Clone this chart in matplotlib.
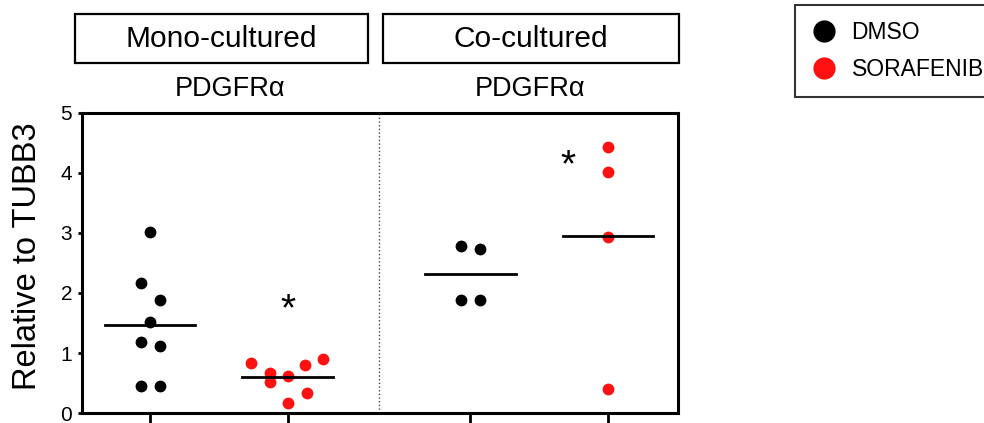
import numpy as np
import matplotlib
matplotlib.use('Agg')
import matplotlib.pyplot as plt
from matplotlib.patches import Rectangle
from matplotlib.lines import Line2D

plt.rcParams['font.family'] = ['Liberation Sans', 'DejaVu Sans']

# groups: mono DMSO, mono sorafenib, co DMSO, co sorafenib
pos = [1.0, 2.0, 3.33, 4.33]
mono_dmso = [3.01, 2.16, 1.88, 1.52, 1.19, 1.12, 0.45, 0.45]
mono_dmso_dx = [0.0, -0.068, 0.073, 0.0, -0.068, 0.073, -0.068, 0.073]
mono_sora = [0.83, 0.67, 0.61, 0.80, 0.90, 0.51, 0.33, 0.17]
mono_sora_dx = [-0.264, -0.13, 0.0, 0.13, 0.26, -0.13, 0.14, 0.0]
co_dmso = [2.78, 2.74, 1.89, 1.89]
co_dmso_dx = [-0.068, 0.07, -0.068, 0.07]
co_sora = [4.43, 4.01, 2.94, 0.40]
co_sora_dx = [0.0, 0.0, 0.0, 0.0]

stars_x = [2.0, 4.04]
stars_y = [1.82, 4.22]

black = 'black'
red = '#ff1111'

fig = plt.figure(figsize=(9.84, 4.23), dpi=100)
ax = fig.add_axes([82/984, 10/423, (678-82)/984, 300/423])

groups = [(mono_dmso, mono_dmso_dx, black), (mono_sora, mono_sora_dx, red),
          (co_dmso, co_dmso_dx, black), (co_sora, co_sora_dx, red)]
for p, (vals, dx, c) in zip(pos, groups):
    ax.plot(p + np.array(dx), vals, 'o', color=c, markersize=8.5, mec='none', zorder=3)
    m = np.mean(vals)
    ax.plot([p - 0.33, p + 0.33], [m, m], color='black', lw=2, zorder=4)

# asterisk glyph sits high in its line box, so nudge it down a little
for sx, sy in zip(stars_x, stars_y):
    ax.annotate('*', (sx, sy), xytext=(0, -5), textcoords='offset points',
                ha='center', va='center', fontsize=28)

ax.axvline(2.665, color='#444444', lw=1, ls=':')

ax.set_xlim(0.505, 4.84)
ax.set_ylim(0, 5)
ax.set_yticks([0, 1, 2, 3, 4, 5])
ax.set_xticks(pos)
ax.set_xticklabels([])
ax.tick_params(axis='y', labelsize=15, width=2, length=3, pad=4)
ax.tick_params(axis='x', width=2, length=12)
for s in ax.spines.values():
    s.set_linewidth(2.2)

fig.text(28/984, 1-256/423, 'Relative to TUBB3', rotation=90, ha='center', va='center', fontsize=23.5)

# header boxes
for x0, x1, label in [(75, 368, 'Mono-cultured'), (383, 679, 'Co-cultured')]:
    fig.patches.append(Rectangle((x0/984, 1-63/423), (x1-x0)/984, 49/423, transform=fig.transFigure,
                                 fill=False, edgecolor='black', lw=1.6))
    fig.text((x0+x1)/2/984, 1-39/423, label, ha='center', va='center', fontsize=21.5)
fig.text(230/984, 1-89/423, 'PDGFRα', ha='center', va='center', fontsize=19.5)
fig.text(530/984, 1-89/423, 'PDGFRα', ha='center', va='center', fontsize=19.5)

handles = [Line2D([], [], ls='none', marker='o', color=black, markersize=16, mec='none'),
           Line2D([], [], ls='none', marker='o', color=red, markersize=16, mec='none')]
leg = fig.legend(handles, ['DMSO', 'SORAFENIB'], loc='upper left', bbox_to_anchor=(795/984, 1-5/423),
                 borderaxespad=0, fontsize=16.5, frameon=True, fancybox=False, edgecolor='black',
                 handletextpad=0.62, labelspacing=0.62, borderpad=0.7, handlelength=1.15)
leg.get_frame().set_linewidth(1.5)

fig.savefig('out.png', dpi=100)
